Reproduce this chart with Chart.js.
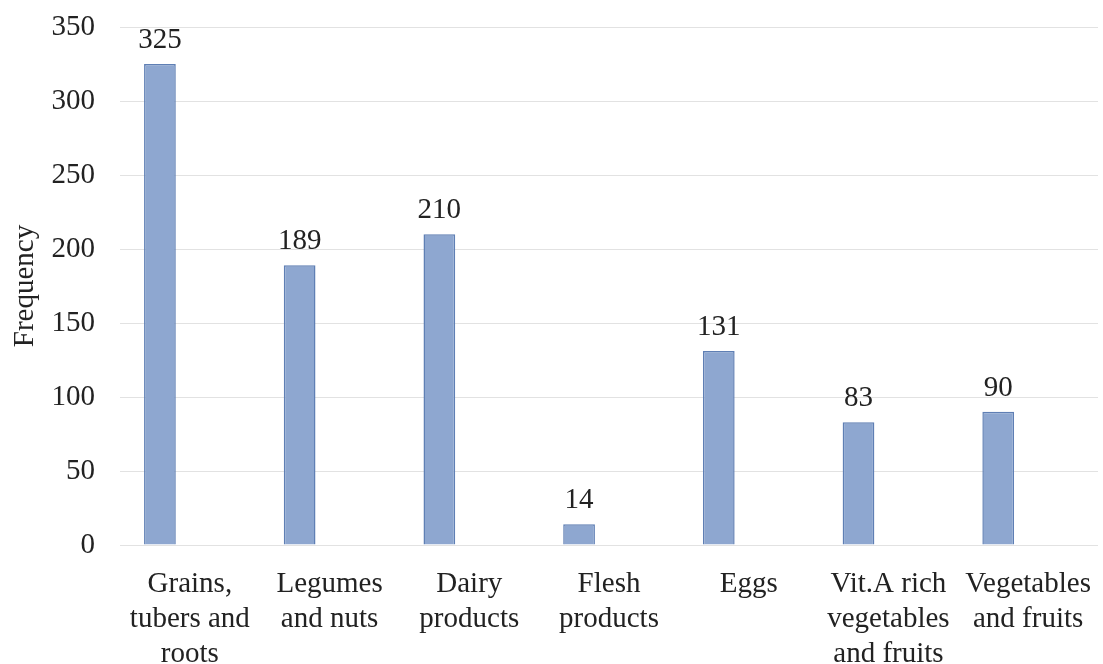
<!DOCTYPE html>
<html>
<head>
<meta charset="utf-8">
<script src="https://cdn.jsdelivr.net/npm/chart.js@4.4.1/dist/chart.umd.min.js"></script>
<style>
html,body{margin:0;padding:0;background:#fff;}
#wrap{width:1103px;height:664px;}
</style>
</head>
<body>
<div id="wrap"><canvas id="c" width="1103" height="664"></canvas></div>
<script>
const categories = [
  ["Grains,", "tubers and", "roots"],
  ["Legumes", "and nuts"],
  ["Dairy", "products"],
  ["Flesh", "products"],
  ["Eggs"],
  ["Vit.A rich", "vegetables", "and fruits"],
  ["Vegetables", "and fruits"]
];
const frequency = [325, 189, 210, 14, 131, 83, 90];
const emptySeries = [null, null, null, null, null, null, null];
const yTicks = [0, 50, 100, 150, 200, 250, 300, 350];

const FONT = "'Liberation Serif', 'Times New Roman', serif";

const labelPlugin = {
  id: 'valueLabels',
  afterDatasetsDraw(chart) {
    const ctx = chart.ctx;
    const meta = chart.getDatasetMeta(0);
    ctx.save();
    ctx.font = "29px " + FONT;
    ctx.fillStyle = "#222";
    ctx.textAlign = "center";
    ctx.textBaseline = "alphabetic";
    meta.data.forEach((bar, i) => {
      ctx.fillText(String(frequency[i]), bar.x, bar.y - 16);
    });
    ctx.restore();
  }
};

new Chart(document.getElementById('c'), {
  type: 'bar',
  data: {
    labels: categories,
    datasets: [
      {
        label: 'Frequency',
        data: frequency,
        backgroundColor: '#8ea7d0',
        borderColor: '#5f7fb4',
        borderWidth: 1.5,
        categoryPercentage: 0.857,
        barPercentage: 0.53
      },
      {
        label: '',
        data: emptySeries,
        backgroundColor: 'rgba(0,0,0,0)',
        categoryPercentage: 0.857,
        barPercentage: 0.53
      }
    ]
  },
  options: {
    responsive: false,
    animation: false,
    layout: { padding: { top: 27, right: 5, left: 0, bottom: 0 } },
    plugins: { legend: { display: false }, tooltip: { enabled: false } },
    scales: {
      x: {
        grid: { display: false },
        border: { display: false },
        ticks: {
          color: '#222',
          font: { family: FONT, size: 29, lineHeight: 1.2 },
          padding: 14,
          maxRotation: 0,
          autoSkip: false
        },
        afterFit(s) { s.height = 664 - 545; s.paddingLeft = 0; s.paddingRight = 0; }
      },
      y: {
        min: 0, max: 350,
        afterBuildTicks(s) { s.ticks = yTicks.map(v => ({ value: v })); },
        grid: { color: '#e2e2e2', lineWidth: 1, drawTicks: false },
        border: { display: false },
        ticks: {
          color: '#222',
          font: { family: FONT, size: 29 },
          padding: 25
        },
        title: {
          display: true,
          text: 'Frequency',
          color: '#222',
          font: { family: FONT, size: 29 },
          padding: { top: 8, bottom: 0 }
        },
        afterFit(s) { s.width = 120; s.paddingTop = 0; s.paddingBottom = 0; }
      }
    }
  },
  plugins: [labelPlugin]
});
</script>
</body>
</html>
